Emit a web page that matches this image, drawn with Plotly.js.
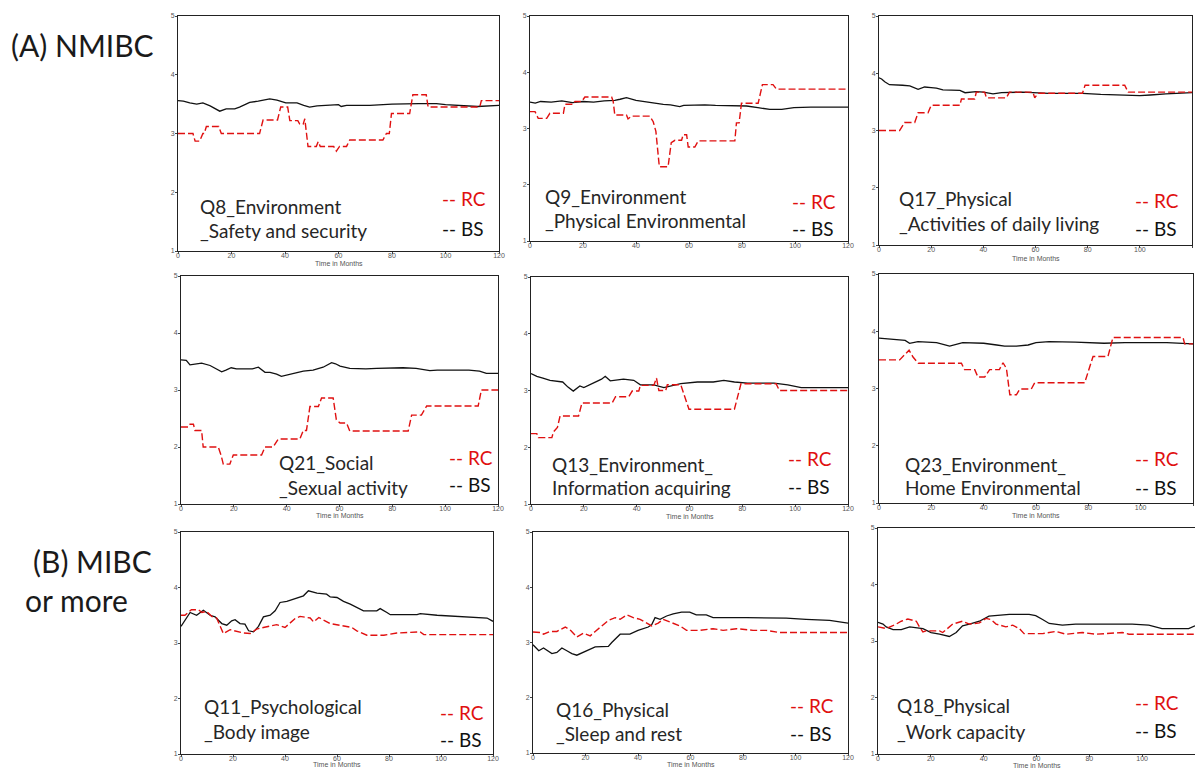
<!DOCTYPE html>
<html><head><meta charset="utf-8">
<script src="https://cdn.plot.ly/plotly-3.0.1.min.js"></script>
<style>html,body{margin:0;padding:0;background:#fff}</style>
</head><body>
<div id="chart" style="width:1195px;height:769px"></div>
<script>
// ---- Data (time in months, mean score) ----
const q8_rc_x = [0,5.6,6.4,8.1,9.3,9.8,10.6,15.2,16.2,30.5,31.8,37.2,38.4,41,41.8,44.8,45.5,46.8,47.4,48.6,51.7,52.4,53.2,58.2,59.2,60.4,63,64.2,76.6,77.9,79,79.8,86.6,87.8,92.8,93.5,112.8,113.4,120];
const q8_rc_y = [3.0,3.0,2.87,2.87,3.0,3.0,3.12,3.12,3.0,3.0,3.23,3.23,3.45,3.45,3.22,3.22,3.16,3.16,3.25,2.78,2.78,2.86,2.78,2.78,2.70,2.78,2.78,2.89,2.89,3.0,3.0,3.34,3.34,3.66,3.66,3.45,3.45,3.56,3.56];
const q8_bs_x = [0,2,4.4,7,9.3,12,15.6,18,21.2,23,26.8,30,34.3,37,40.3,44.5,47,49.2,52,56,60,61,63,71.7,80,90,96.6,100,106,112,120];
const q8_bs_y = [3.56,3.55,3.52,3.5,3.52,3.47,3.38,3.42,3.42,3.45,3.53,3.55,3.59,3.57,3.52,3.52,3.48,3.45,3.47,3.48,3.49,3.46,3.48,3.48,3.5,3.51,3.51,3.49,3.47,3.46,3.48];

const q9_rc_x = [0,1.9,3.1,6.3,7.5,12.6,13.2,16.3,17,19.5,20.7,30.8,31.4,32,36.4,37,38.3,45.2,46.5,47.5,48.8,52.1,53.3,54.7,57.2,57.8,59.1,59.7,62.2,63.5,77.3,77.9,78.9,79.8,86.1,87.7,91.7,93,120];
const q9_rc_y = [3.3,3.3,3.18,3.18,3.27,3.27,3.43,3.43,3.48,3.48,3.56,3.56,3.48,3.24,3.24,3.17,3.22,3.22,3.12,2.95,2.32,2.32,2.75,2.79,2.79,2.89,2.89,2.67,2.67,2.78,2.78,3.1,3.1,3.45,3.45,3.78,3.78,3.7,3.7];
const q9_bs_x = [0,2,4,8,12,16,20,24,28,32,34,36.4,40,44,50.3,53,56.5,58,62,66,70,75.4,81.7,86,90.5,95,99.6,106,120];
const q9_bs_y = [3.47,3.45,3.48,3.47,3.49,3.46,3.48,3.47,3.49,3.5,3.52,3.55,3.5,3.47,3.43,3.42,3.39,3.41,3.42,3.42,3.41,3.4,3.4,3.37,3.34,3.34,3.37,3.38,3.38];

const q17_rc_x = [0,7.9,9.8,13.7,15,18.8,20,31,31.6,36.7,37.3,40.5,41.2,48.8,50,59,59.7,61,78,79,94.2,95.5,120];
const q17_rc_y = [3.0,3.0,3.14,3.14,3.31,3.31,3.44,3.44,3.55,3.55,3.67,3.67,3.57,3.57,3.67,3.67,3.57,3.65,3.65,3.79,3.79,3.67,3.67];
const q17_bs_x = [0,1,2.2,4,9,11.8,15,17.5,20,22,24.5,28,31,33,37.3,40,43.7,47,55,65,78,85,91,100,104,110,120];
const q17_bs_y = [3.92,3.9,3.85,3.8,3.79,3.78,3.72,3.76,3.75,3.74,3.71,3.71,3.7,3.66,3.68,3.67,3.64,3.66,3.67,3.65,3.65,3.63,3.62,3.61,3.62,3.64,3.66];

const q21_rc_x = [0,2.8,3.4,4.7,5.3,7.8,8.4,14.1,15.2,16,18.5,19.8,30.5,31.8,34.9,36.8,45,46.3,47.5,48.8,52,53.2,57.6,58.8,60.2,62.7,63.9,86,87.3,91,93,112.5,113.7,120];
const q21_rc_y = [2.35,2.35,2.40,2.40,2.29,2.29,2.0,2.0,1.85,1.70,1.70,1.86,1.86,2.0,2.0,2.14,2.14,2.29,2.29,2.71,2.71,2.86,2.86,2.48,2.42,2.42,2.28,2.28,2.56,2.56,2.72,2.72,3.0,3.0];
const q21_bs_x = [0,2,3.4,5.8,7.8,11,13,15.4,17,19,21,27,29.3,31.8,33.7,36.2,38,41.2,46.3,50,53.8,57,58.5,60.2,63.9,70,74,84,89,94.2,97,109,113,115.6,120];
const q21_bs_y = [3.53,3.52,3.44,3.45,3.47,3.43,3.38,3.32,3.35,3.39,3.37,3.37,3.4,3.31,3.31,3.28,3.24,3.27,3.33,3.35,3.4,3.48,3.46,3.42,3.38,3.37,3.38,3.39,3.38,3.34,3.35,3.35,3.33,3.29,3.29];

const q13_rc_x = [0,2.2,2.8,7.9,8.5,10,11,18,19.3,30.7,32,37,38.3,40.8,41.4,46.5,47.5,48.4,51,51.6,56.7,59.8,77,78.2,79.5,92.8,94,120];
const q13_rc_y = [2.24,2.24,2.17,2.17,2.27,2.35,2.55,2.55,2.78,2.78,2.89,2.89,2.99,2.99,3.09,3.09,3.22,3.0,3.0,3.1,3.1,2.67,2.67,2.9,3.12,3.12,3.0,3.0];
const q13_bs_x = [0,2.2,4.5,7.2,12,14,16,18.5,20,22.3,24.2,26.7,28.1,30,35,38.9,41.4,46.5,50.3,56.7,63,69,73,77,82,92,97.2,102.3,120];
const q13_bs_y = [3.3,3.25,3.22,3.18,3.15,3.06,2.99,3.08,3.05,3.1,3.15,3.2,3.25,3.17,3.2,3.18,3.1,3.1,3.05,3.12,3.15,3.15,3.18,3.15,3.13,3.13,3.1,3.05,3.05];

const q23_rc_x = [0,7.9,11.5,13,15,31.5,32.7,36.6,37.8,40.4,42.3,46,47.4,48.7,50,52.5,53.8,58.2,59.5,78.6,81.8,87.5,89.4,116.2,116.8,120];
const q23_rc_y = [3.5,3.5,3.67,3.55,3.44,3.44,3.33,3.33,3.2,3.2,3.33,3.33,3.45,3.35,2.89,2.89,2.99,2.99,3.1,3.1,3.56,3.56,3.89,3.89,3.78,3.78];
const q23_bs_x = [0,4,10,11.7,14.9,22,27,32,40,45,48,52.5,57,60,65,75,86,94,110,120];
const q23_bs_y = [3.88,3.86,3.84,3.79,3.82,3.8,3.74,3.8,3.79,3.76,3.74,3.74,3.76,3.8,3.82,3.81,3.79,3.8,3.8,3.78];

const q11_rc_x = [0,1.5,2.8,4,6.7,8,9.8,11.8,13.7,15,16.3,18.9,20.8,24,26.6,29.1,31.7,36.8,40,43.9,45.8,49.7,51,53,57.4,62.5,65.7,67.6,71.5,78,83,92,93.4,120];
const q11_rc_y = [3.5,3.5,3.55,3.6,3.6,3.55,3.57,3.48,3.45,3.32,3.17,3.24,3.22,3.18,3.17,3.25,3.28,3.33,3.28,3.44,3.48,3.45,3.38,3.46,3.35,3.3,3.28,3.22,3.14,3.14,3.18,3.2,3.15,3.15];
const q11_bs_x = [0,1.5,3.5,6,8.6,11.2,13.1,15.7,17.6,19.5,20.8,22.7,24.6,26,27.9,29.8,31.7,34.3,36.2,38.1,40.7,44.5,47.1,49,52.3,56,57.4,60,62.5,65.1,70.2,75.3,76.6,79.2,80.5,90.8,92,98.5,104.9,111.3,117.7,120];
const q11_bs_y = [3.3,3.4,3.55,3.5,3.59,3.5,3.47,3.35,3.32,3.4,3.42,3.35,3.34,3.22,3.2,3.3,3.47,3.5,3.58,3.73,3.75,3.81,3.85,3.94,3.9,3.88,3.83,3.82,3.75,3.7,3.58,3.58,3.62,3.55,3.51,3.51,3.53,3.5,3.48,3.47,3.45,3.39];

const q16_rc_x = [0,3,4,6.6,9.1,12.3,14.3,16.7,19.2,21.8,23.7,26.2,28.7,31.3,33.2,35.7,38.2,40.8,43.3,45.2,47.7,49.6,52.2,53.4,56,58.5,63.5,68.6,72.4,77.5,83.8,88.9,94,120];
const q16_rc_y = [3.19,3.18,3.15,3.2,3.2,3.28,3.22,3.1,3.17,3.12,3.2,3.3,3.4,3.45,3.42,3.5,3.45,3.42,3.35,3.3,3.35,3.42,3.37,3.35,3.3,3.22,3.22,3.25,3.22,3.25,3.22,3.22,3.18,3.18];
const q16_bs_x = [0,2.2,4,7.2,9.1,11,12.9,14.8,16.7,19.2,21.1,23.7,28.7,30,33.2,36.9,40,42,43.9,45.2,46.5,48.4,50.9,53.4,56.6,59.7,62.2,66,68.6,81.3,91.4,96.5,104,113,120];
const q16_bs_y = [2.96,2.85,2.9,2.8,2.82,2.9,2.85,2.8,2.77,2.82,2.87,2.92,2.93,3.0,3.15,3.15,3.22,3.25,3.28,3.32,3.45,3.42,3.48,3.52,3.55,3.55,3.5,3.5,3.45,3.45,3.45,3.44,3.42,3.4,3.35];

const q18_rc_x = [0,3.1,6.9,8.8,11.3,14.5,15.7,17,18.2,23.3,24.5,25.8,28.3,32,34.6,38.4,40.9,42.8,44.7,48.4,51,53.5,55.3,62.3,67.3,71.1,77.4,82.4,92.5,95,120];
const q18_rc_y = [3.25,3.22,3.3,3.35,3.39,3.35,3.25,3.16,3.18,3.18,3.15,3.2,3.3,3.35,3.3,3.32,3.4,3.38,3.3,3.25,3.28,3.22,3.13,3.13,3.17,3.12,3.15,3.12,3.15,3.12,3.12];
const q18_bs_x = [0,1.9,3.1,5.7,8.8,12,17,20.1,23.3,27,29.6,32,34.6,38.4,42,45.9,49.7,57.2,59.7,62.3,64.8,69.8,74.8,83.6,96.2,102.5,107.5,117.6,120];
const q18_bs_y = [3.33,3.3,3.25,3.2,3.2,3.25,3.22,3.15,3.12,3.08,3.15,3.27,3.3,3.35,3.44,3.45,3.47,3.47,3.45,3.38,3.31,3.28,3.3,3.3,3.3,3.28,3.22,3.22,3.27];

const titleLine1 = ['Q8_Environment','Q9_Environment','Q17_Physical','Q21_Social','Q13_Environment_','Q23_Environment_','Q11_Psychological','Q16_Physical','Q18_Physical'];
const titleLine2 = ['_Safety and security','_Physical Environmental','_Activities of daily living','_Sexual activity','Information acquiring','Home Environmental','_Body image','_Sleep and rest','_Work capacity'];
const seriesNames = ['RC','BS'];
const xTicks = [0,20,40,60,80,100,120];
const yTicks = [1,2,3,4,5];

// ---- Layout geometry (pixel boxes) ----
const W = 1195, H = 769;
const boxes = [ // left, right, top, bottom
  [178,499,16,251],[530,848,16,241],[879,1192,16,245],
  [181,498,276,504],[531,848,277,504],[879,1193,274,503],
  [181,493,532,754],[533,848,532,753],[878,1195,528,754]
];
// label positions: [titleX, line1Y, line2Y, legendX, rcY, bsY]
const labelPos = [
  [198,207,230,440,199,228],[543,196,220,790,201,229],[897,198,223,1133,200,229],
  [277,462,487,447,457,485],[550,464,487,786,458,486],[903,464,487,1133,458,487],
  [202,706,731,438,712,739],[554,709,733,788,705,733],[895,705,731,1133,702,730]
];
const showXTitle = [true,false,true,true,true,true,true,true,true];
const xTitleOffset = [12,0,13,11,12,12,10,11,11];

const rcX = [q8_rc_x,q9_rc_x,q17_rc_x,q21_rc_x,q13_rc_x,q23_rc_x,q11_rc_x,q16_rc_x,q18_rc_x];
const rcY = [q8_rc_y,q9_rc_y,q17_rc_y,q21_rc_y,q13_rc_y,q23_rc_y,q11_rc_y,q16_rc_y,q18_rc_y];
const bsX = [q8_bs_x,q9_bs_x,q17_bs_x,q21_bs_x,q13_bs_x,q23_bs_x,q11_bs_x,q16_bs_x,q18_bs_x];
const bsY = [q8_bs_y,q9_bs_y,q17_bs_y,q21_bs_y,q13_bs_y,q23_bs_y,q11_bs_y,q16_bs_y,q18_bs_y];

const RED = '#e01010';
const px = x => x / W;
const py = y => 1 - y / H;

const traces = [];
const layout = {
  width: W, height: H,
  margin: {l:0, r:0, t:0, b:0},
  paper_bgcolor: '#fff', plot_bgcolor: '#fff',
  showlegend: false,
  annotations: [],
  font: {family: 'Lato, "Open Sans", sans-serif', color: '#222'}
};

const labelFont = {family: 'Lato, sans-serif', size: 19, color: '#262626'};
const tinyFont = {family: 'Liberation Sans, Arial', size: 7, color: '#555'};

for (let i = 0; i < 9; i++) {
  const n = i === 0 ? '' : String(i + 1);
  const xa = 'x' + n, ya = 'y' + n;
  traces.push({x: bsX[i], y: bsY[i], xaxis: xa, yaxis: ya, type: 'scatter', mode: 'lines', name: seriesNames[1],
    line: {color: '#111', width: 1.3}, hoverinfo: 'skip'});
  traces.push({x: rcX[i], y: rcY[i], xaxis: xa, yaxis: ya, type: 'scatter', mode: 'lines', name: seriesNames[0],
    line: {color: RED, width: 1.4, dash: '7px,3px'}, hoverinfo: 'skip'});
  const b = boxes[i];
  const axCommon = {showline: true, mirror: true, linecolor: '#222', linewidth: 1, showgrid: false, zeroline: false,
    ticks: 'outside', ticklen: 2, tickcolor: '#444', tickfont: tinyFont, fixedrange: true};
  layout['xaxis' + n] = Object.assign({}, axCommon, {domain: [px(b[0]), px(b[1])], range: [0, 120], tickvals: xTicks, anchor: ya, ticklabelstandoff: -4});
  layout['yaxis' + n] = Object.assign({}, axCommon, {domain: [py(b[3]), py(b[2])], range: [1, 5], tickvals: yTicks, anchor: xa, ticklabelstandoff: -1});
  if (showXTitle[i]) {
    layout.annotations.push({xref: 'paper', yref: 'paper', x: px((b[0] + b[1]) / 2), y: py(b[3] + xTitleOffset[i]), text: 'Time in Months',
      showarrow: false, xanchor: 'center', yanchor: 'middle', font: tinyFont});
  }
  const L = labelPos[i];
  layout.annotations.push({xref: 'paper', yref: 'paper', x: px(L[0]), y: py(L[1]), text: titleLine1[i], showarrow: false, xanchor: 'left', yanchor: 'middle', font: labelFont});
  layout.annotations.push({xref: 'paper', yref: 'paper', x: px(L[0]), y: py(L[2]), text: titleLine2[i], showarrow: false, xanchor: 'left', yanchor: 'middle', font: labelFont});
  layout.annotations.push({xref: 'paper', yref: 'paper', x: px(L[3]), y: py(L[4]), text: '-- ' + seriesNames[0], showarrow: false, xanchor: 'left', yanchor: 'middle', font: Object.assign({}, labelFont, {color: RED})});
  layout.annotations.push({xref: 'paper', yref: 'paper', x: px(L[3]), y: py(L[5]), text: '-- ' + seriesNames[1], showarrow: false, xanchor: 'left', yanchor: 'middle', font: Object.assign({}, labelFont, {color: '#111'})});
}

const groupFont = {family: 'Lato, sans-serif', size: 30, color: '#1a1a1a'};
layout.annotations.push({xref: 'paper', yref: 'paper', x: px(9), y: py(45), text: '(A) NMIBC', showarrow: false, xanchor: 'left', yanchor: 'middle', font: groupFont});
layout.annotations.push({xref: 'paper', yref: 'paper', x: px(31), y: py(561), text: '(B) MIBC', showarrow: false, xanchor: 'left', yanchor: 'middle', font: groupFont});
layout.annotations.push({xref: 'paper', yref: 'paper', x: px(23), y: py(600), text: 'or more', showarrow: false, xanchor: 'left', yanchor: 'middle', font: groupFont});

Plotly.newPlot('chart', traces, layout, {staticPlot: true, displayModeBar: false});
</script>
</body></html>
